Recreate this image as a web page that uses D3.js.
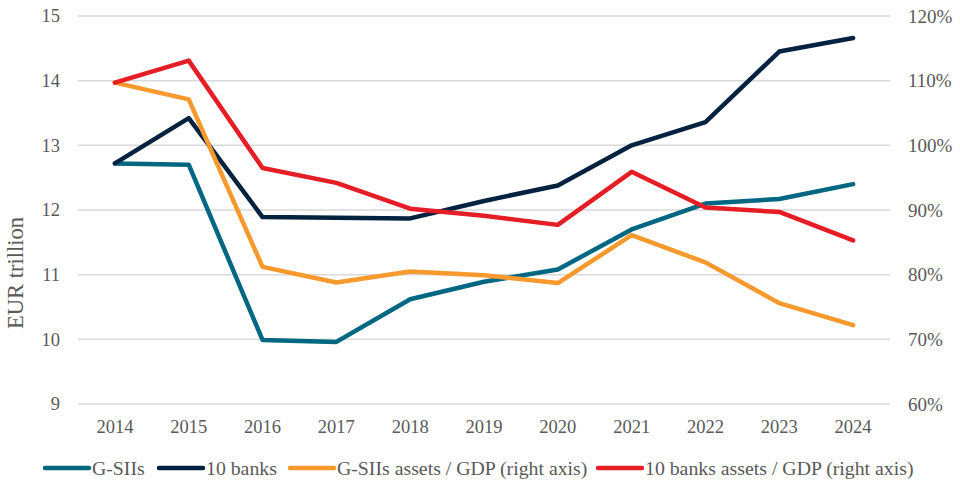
<!DOCTYPE html>
<html>
<head>
<meta charset="utf-8">
<script src="https://cdn.jsdelivr.net/npm/d3@7"></script>
<style>
  body { margin: 0; background: #fff; }
  svg { display: block; font-family: "Liberation Serif", "Times New Roman", serif; }
</style>
</head>
<body>
<svg id="chart" width="960" height="484"></svg>
<script>
// data
var years = ["2014","2015","2016","2017","2018","2019","2020","2021","2022","2023","2024"];
var gsiis = [12.72, 12.70, 9.99, 9.96, 10.62, 10.89, 11.08, 11.70, 12.10, 12.17, 12.40];
var tenBanks = [12.72, 13.42, 11.89, 11.88, 11.87, 12.14, 12.38, 13.00, 13.36, 14.45, 14.66];
var gsiisGdp = [109.7, 107.1, 81.2, 78.8, 80.5, 79.9, 78.7, 86.1, 81.9, 75.6, 72.2];
var tenBanksGdp = [109.7, 113.1, 96.5, 94.2, 90.2, 89.1, 87.7, 95.9, 90.4, 89.7, 85.3];
var leftTicks = [9, 10, 11, 12, 13, 14, 15];
var rightTicks = [60, 70, 80, 90, 100, 110, 120];

var series = [
  {name: "G-SIIs", values: gsiis, axis: "left", color: "#006783"},
  {name: "10 banks", values: tenBanks, axis: "left", color: "#03223f"},
  {name: "G-SIIs assets / GDP (right axis)", values: gsiisGdp, axis: "right", color: "#f7992c"},
  {name: "10 banks assets / GDP (right axis)", values: tenBanksGdp, axis: "right", color: "#e51d25"}
];

var svg = d3.select("#chart");
var plotLeft = 78, plotRight = 890, plotTop = 16, plotBottom = 404;
var textCol = "#595959";

var x = d3.scaleBand().domain(years).range([plotLeft, plotRight]);
var yL = d3.scaleLinear().domain([9, 15]).range([plotBottom, plotTop]);
var yR = d3.scaleLinear().domain([60, 120]).range([plotBottom, plotTop]);

// gridlines
svg.append("g")
  .selectAll("line")
  .data(leftTicks)
  .enter().append("line")
    .attr("x1", plotLeft).attr("x2", plotRight)
    .attr("y1", function(d) { return yL(d); })
    .attr("y2", function(d) { return yL(d); })
    .attr("stroke", "#d9d9d9")
    .attr("stroke-width", 1.5);

// left axis
var gl = svg.append("g")
  .attr("transform", "translate(" + plotLeft + ",0)")
  .call(d3.axisLeft(yL).tickValues(leftTicks).tickSize(0).tickPadding(18).tickFormat(d3.format("d")));
gl.select(".domain").remove();
gl.selectAll("text").attr("font-size", 18.5).attr("fill", textCol).attr("font-family", "Liberation Serif");

// right axis
var gr = svg.append("g")
  .attr("transform", "translate(" + plotRight + ",0)")
  .call(d3.axisRight(yR).tickValues(rightTicks).tickSize(0).tickPadding(18)
    .tickFormat(function(d) { return d + "%"; }));
gr.select(".domain").remove();
gr.selectAll("text").attr("font-size", 19).attr("fill", textCol).attr("font-family", "Liberation Serif");

// x axis
var gx = svg.append("g")
  .attr("transform", "translate(0," + plotBottom + ")")
  .call(d3.axisBottom(x).tickSize(0).tickPadding(16));
gx.select(".domain").remove();
gx.selectAll("text").attr("font-size", 18.5).attr("fill", textCol).attr("font-family", "Liberation Serif");

// y title
svg.append("text")
  .attr("transform", "translate(23,273) rotate(-90)")
  .attr("text-anchor", "middle")
  .attr("font-size", 22.5)
  .attr("fill", textCol)
  .text("EUR trillion");

// lines
series.forEach(function(s) {
  var yy = s.axis == "left" ? yL : yR;
  var line = d3.line()
    .x(function(d, i) { return x(years[i]) + x.bandwidth() / 2; })
    .y(function(d) { return yy(d); });
  svg.append("path")
    .datum(s.values)
    .attr("d", line)
    .attr("fill", "none")
    .attr("stroke", s.color)
    .attr("stroke-width", 4.5)
    .attr("stroke-linejoin", "round")
    .attr("stroke-linecap", "round");
});

// legend
var legendX = [45, 159, 290, 598];
var lg = svg.append("g");
series.forEach(function(s, i) {
  lg.append("line")
    .attr("x1", legendX[i]).attr("x2", legendX[i] + 44)
    .attr("y1", 468).attr("y2", 468)
    .attr("stroke", s.color)
    .attr("stroke-width", 4.5)
    .attr("stroke-linecap", "round");
  lg.append("text")
    .attr("x", legendX[i] + 47)
    .attr("y", 474.5)
    .attr("font-size", 19.8)
    .attr("fill", textCol)
    .text(s.name);
});
</script>
</body>
</html>
